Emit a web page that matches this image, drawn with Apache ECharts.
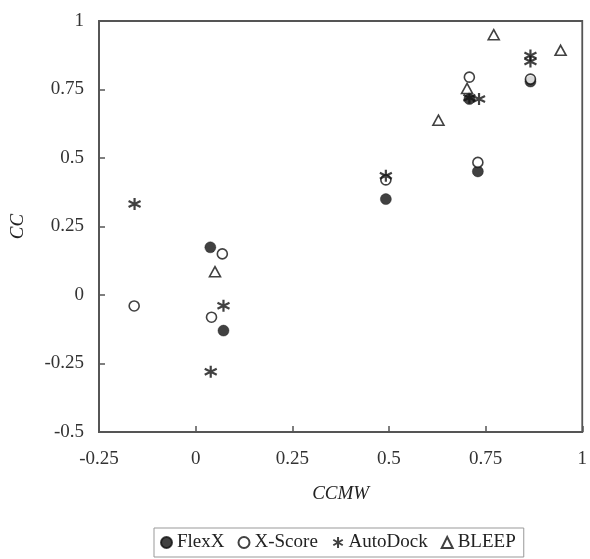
<!DOCTYPE html>
<html>
<head>
<meta charset="utf-8">
<script src="https://cdn.jsdelivr.net/npm/echarts@6/dist/echarts.min.js"></script>
<style>
  html, body { margin: 0; padding: 0; background: #fff; }
  #chart { width: 590px; height: 559px; }
</style>
</head>
<body>
<div id="chart"></div>
<script>
// Correlation of CC against CCMW for four scoring functions
const seriesNames = ['FlexX', 'X-Score', 'AutoDock', 'BLEEP'];

const flexX = [
  [0.038, 0.174], [0.072, -0.130], [0.492, 0.350],
  [0.708, 0.715], [0.730, 0.451], [0.866, 0.779]
];
const xScore = [
  [-0.159, -0.040], [0.069, 0.150], [0.041, -0.081], [0.492, 0.420],
  [0.708, 0.795], [0.730, 0.484], [0.866, 0.788]
];
const autoDock = [
  [-0.158, 0.332], [0.072, -0.039], [0.039, -0.280], [0.492, 0.435],
  [0.708, 0.720], [0.733, 0.715], [0.866, 0.874], [0.866, 0.852]
];
const bleep = [
  [0.050, 0.085], [0.628, 0.638], [0.702, 0.754],
  [0.771, 0.950], [0.944, 0.893]
];

const xTickValues = [-0.25, 0, 0.25, 0.5, 0.75, 1];
const yTickValues = [-0.5, -0.25, 0, 0.25, 0.5, 0.75, 1];

const FONT = '"Liberation Serif", "Times New Roman", serif';
const INK = '#111';
const AXIS = '#555';

// six-armed asterisk: vertical stroke plus two diagonals
const asterisk = 'path://M5,0L5,10M0.7,2.5L9.3,7.5M0.7,7.5L9.3,2.5';

const chart = echarts.init(document.getElementById('chart'), null, { renderer: 'canvas' });

chart.setOption({
  animation: false,
  backgroundColor: '#fff',
  grid: {
    left: 97, right: 5, top: 21, bottom: 127,
    show: true, borderColor: AXIS, borderWidth: 1.8, backgroundColor: 'transparent'
  },
  xAxis: {
    type: 'value',
    min: xTickValues[0], max: xTickValues[xTickValues.length - 1], interval: 0.25,
    name: 'CCMW', nameLocation: 'middle', nameGap: 52,
    nameTextStyle: { fontFamily: FONT, fontStyle: 'italic', fontSize: 19, color: '#222' },
    axisLine: { show: true, onZero: false, lineStyle: { color: AXIS, width: 1.8 } },
    axisTick: { show: true, inside: true, length: 6, lineStyle: { color: AXIS, width: 1.5 } },
    splitLine: { show: false },
    axisLabel: { fontFamily: FONT, fontSize: 19, color: '#333', margin: 18 }
  },
  yAxis: {
    type: 'value',
    min: yTickValues[0], max: yTickValues[yTickValues.length - 1], interval: 0.25,
    name: 'CC', nameLocation: 'middle', nameGap: 72, nameRotate: 90,
    nameTextStyle: { fontFamily: FONT, fontStyle: 'italic', fontSize: 19, color: '#222' },
    axisLine: { show: true, onZero: false, lineStyle: { color: AXIS, width: 1.8 } },
    axisTick: { show: true, inside: true, length: 6, lineStyle: { color: AXIS, width: 1.5 } },
    splitLine: { show: false },
    axisLabel: { fontFamily: FONT, fontSize: 19, color: '#333', margin: 15 }
  },
  legend: {
    data: seriesNames,
    left: 154, top: 528,
    padding: [5, 8, 5, 6],
    borderColor: '#999', borderWidth: 1,
    itemWidth: 11, itemHeight: 11, itemGap: 13,
    textStyle: { fontFamily: FONT, fontSize: 19, color: '#222' }
  },
  series: [
    {
      name: seriesNames[0], type: 'scatter', data: flexX,
      symbol: 'circle', symbolSize: 11,
      itemStyle: { color: INK, borderColor: INK, borderWidth: 0.5 }
    },
    {
      name: seriesNames[1], type: 'scatter', data: xScore,
      symbol: 'circle', symbolSize: 10,
      itemStyle: { color: '#fff', borderColor: INK, borderWidth: 1.6 }
    },
    {
      name: seriesNames[2], type: 'scatter', data: autoDock,
      symbol: asterisk, symbolSize: 12,
      itemStyle: { color: 'none', borderColor: INK, borderWidth: 2.2 }
    },
    {
      name: seriesNames[3], type: 'scatter', data: bleep,
      symbol: 'triangle', symbolSize: [11, 10],
      itemStyle: { color: '#fff', borderColor: INK, borderWidth: 1.6 }
    }
  ]
});
</script>
</body>
</html>
